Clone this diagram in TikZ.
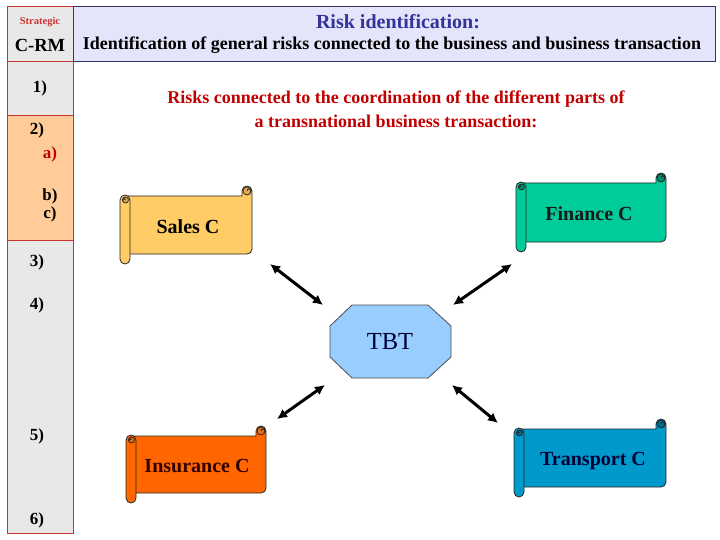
\documentclass[tikz,border=0pt]{standalone}
\usepackage{fontspec}
\setmainfont{Liberation Serif}
\usetikzlibrary{arrows.meta}
\definecolor{cellred}{HTML}{CC3333}
\definecolor{cellgray}{HTML}{E8E8E8}
\definecolor{cellpeach}{HTML}{FFCC99}
\definecolor{headfill}{HTML}{E4E4FA}
\definecolor{headline}{HTML}{333366}
\definecolor{titleblue}{HTML}{333399}
\definecolor{riskred}{HTML}{C00000}
\definecolor{salesfill}{HTML}{FFCC66}
\definecolor{financefill}{HTML}{00CC99}
\definecolor{insfill}{HTML}{FF6600}
\definecolor{transfill}{HTML}{0099CC}
\definecolor{tbtfill}{HTML}{99CCFF}
\definecolor{navy}{HTML}{000033}
\definecolor{darkbrown}{HTML}{330000}
\newcommand\myscroll[6]{%
  % #1 x0, #2 y0, #3 x1, #4 y1 (pixels, y down), #5 fill, #6 curl fill
  \filldraw[scrollline,fill=#5] ({#1+5},{-#2}) -- ({#3-10},{-#2}) -- ({#3-10},{-#2+5})
    arc[start angle=180,end angle=0,radius=5] -- ({#3},{-#4+5})
    arc[start angle=0,end angle=-90,radius=5] -- ({#1+5},{-#4}) -- cycle;
  \filldraw[scrollline,fill=#6] ({#3-5},{-#2+5}) circle[radius=4];
  \draw[scrollline] ({#3-5},{-#2+5}) arc[start angle=180,end angle=-60,radius=2];
  \filldraw[scrollline,fill=#5,rounded corners=5] (#1,{-#4-10}) rectangle ({#1+10},{-#2+1});
  \filldraw[scrollline,fill=#6] ({#1+5.5},{-#2-4}) circle[radius=3];
  \draw[scrollline] ({#1+5.5},{-#2-4}) arc[start angle=0,end angle=240,radius=1.5];
}
\tikzset{
  cell/.style={draw=cellred,line width=0.9pt},
  scrollline/.style={draw=black!85,line width=0.8pt},
  lbl/.style={font=\bfseries\fontsize{17}{19}\selectfont,inner sep=0pt},
  scrolltxt/.style={font=\bfseries\fontsize{20}{22}\selectfont,inner sep=0pt},
  bigtxt/.style={font=\bfseries\fontsize{18}{20}\selectfont,inner sep=0pt},
  biarrow/.style={line width=3pt,{Latex[length=10pt,width=10pt]}-{Latex[length=10pt,width=10pt]}},
}
\begin{document}
\begin{tikzpicture}[x=1pt,y=1pt]
\useasboundingbox (0,0) rectangle (720,-540);
% left column
\filldraw[cell,fill=cellgray] (7,-6) rectangle (73,-61);
\filldraw[cell,fill=cellgray] (7,-61) rectangle (73,-115);
\filldraw[cell,fill=cellpeach] (7,-115) rectangle (73,-240);
\filldraw[cell,fill=cellgray] (7,-240) rectangle (73,-533);
% header
\filldraw[draw=headline,fill=headfill,line width=0.9pt] (73,-6) rectangle (715,-61);
\node[font=\bfseries\fontsize{10.5}{12}\selectfont,text=cellred,inner sep=0pt] (strat) at (40,-22) {Strategic};
\node[font=\bfseries\fontsize{18.5}{20}\selectfont,inner sep=0pt] (crm) at (40,-45) {C-RM};
\node[font=\bfseries\fontsize{20}{22}\selectfont,text=titleblue,inner sep=0pt] (title) at (398,-22) {Risk identification:};
\node[bigtxt] (sub) at (392,-45) {Identification of general risks connected to the business and business transaction};
% red text
\node[bigtxt,text=riskred] (r1) at (396,-99) {Risks connected to the coordination of the different parts of};
\node[bigtxt,text=riskred] (r2) at (396,-121) {a transnational business transaction:};
% left labels
\node[lbl] (l1) at (40,-88) {1)};
\node[lbl] (l2) at (37,-130) {2)};
\node[lbl,text=riskred] (la) at (50,-154) {a)};
\node[lbl] (lb) at (50,-196) {b)};
\node[lbl] (lc) at (50,-214) {c)};
\node[lbl] (l3) at (37,-262) {3)};
\node[lbl] (l4) at (37,-305) {4)};
\node[lbl] (l5) at (37,-436) {5)};
\node[lbl] (l6) at (37,-520) {6)};
% scrolls
\myscroll{120}{196}{252}{254}{salesfill}{salesfill!60!brown}
\node[scrolltxt] (sales) at (188,-227) {Sales C};
\myscroll{516}{183}{666}{242}{financefill}{financefill!70!black}
\node[scrolltxt,text=black!90] (finance) at (589,-214) {Finance C};
\myscroll{126}{436}{266}{493}{insfill}{insfill!60!brown}
\node[scrolltxt,text=darkbrown] (insurance) at (197,-466) {Insurance C};
\myscroll{514}{429}{666}{487}{transfill}{transfill!70!black}
\node[scrolltxt,text=navy] (transport) at (593,-461) {Transport C};
% TBT
\filldraw[draw=black!70,fill=tbtfill,line width=0.8pt] (352,-305) -- (428,-305) -- (451,-326) -- (451,-357) -- (428,-378) -- (352,-378) -- (330,-357) -- (330,-326) -- cycle;
\node[font=\fontsize{24.5}{26}\selectfont,text=navy,inner sep=0pt] (tbt) at (390,-342) {TBT};
% arrows
\coordinate (a1s) at (270,-264); \coordinate (a1e) at (323,-305);
\coordinate (a2s) at (512,-264); \coordinate (a2e) at (453,-305);
\coordinate (a3s) at (325,-385); \coordinate (a3e) at (277,-419);
\coordinate (a4s) at (452,-385); \coordinate (a4e) at (498,-423);
\draw[biarrow] (a1s) -- (a1e);
\draw[biarrow] (a2s) -- (a2e);
\draw[biarrow] (a3s) -- (a3e);
\draw[biarrow] (a4s) -- (a4e);
\end{tikzpicture}
\end{document}
